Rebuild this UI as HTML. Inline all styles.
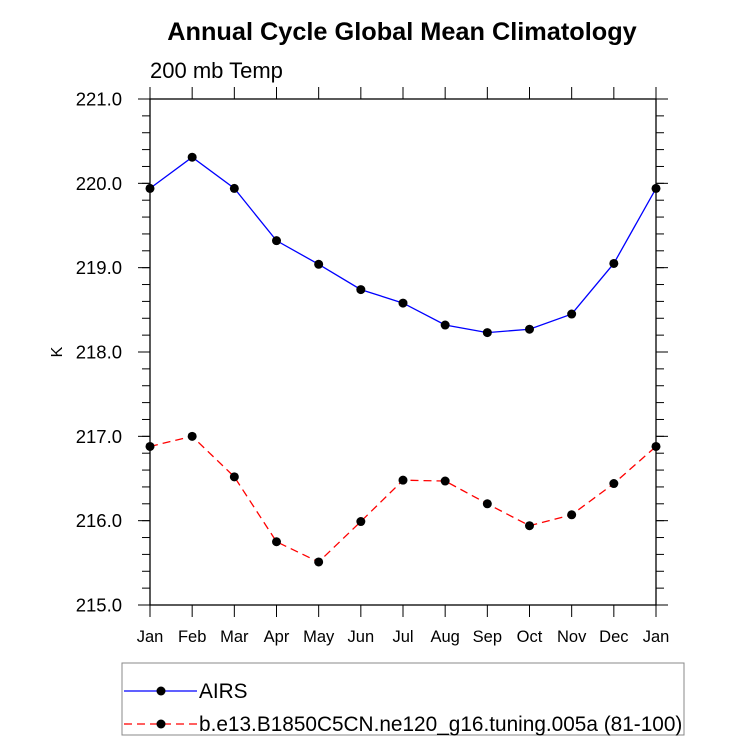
<!DOCTYPE html>
<html><head><meta charset="utf-8"><style>
body{margin:0;background:#fff;font-family:"Liberation Sans",sans-serif}
</style></head><body>
<svg id="c" width="733" height="737" xmlns="http://www.w3.org/2000/svg" font-family="Liberation Sans, sans-serif">
<text x="402" y="40" font-size="25.3" font-weight="bold" text-anchor="middle">Annual Cycle Global Mean Climatology</text>
<text x="150" y="78" font-size="22">200 mb Temp</text>
<text transform="translate(62,352) rotate(-90)" font-size="16" text-anchor="middle">K</text>
<g id="axes"></g><g id="series"></g>
<rect x="122" y="663" width="562" height="72" fill="none" stroke="#888"/>
<g>
<line x1="124" y1="691" x2="197" y2="691" stroke="#00f" stroke-width="1.3"/><circle cx="161" cy="691" r="4.5"/>
<text x="199" y="698" font-size="20.8">AIRS</text></g>
<g>
<line x1="124" y1="724" x2="197" y2="724" stroke="#f00" stroke-width="1.3" stroke-dasharray="8,5"/><circle cx="161" cy="724" r="4.5"/>
<text x="199" y="731" font-size="20.8">b.e13.B1850C5CN.ne120_g16.tuning.005a (81-100)</text></g>
</svg>
<script>
const months=["Jan","Feb","Mar","Apr","May","Jun","Jul","Aug","Sep","Oct","Nov","Dec","Jan"];
const airs=[219.94,220.31,219.94,219.32,219.04,218.74,218.58,218.32,218.23,218.27,218.45,219.05,219.94];
const model=[216.88,217.0,216.52,215.75,215.51,215.99,216.48,216.47,216.2,215.94,216.07,216.44,216.88];
const yTicks=["215.0","216.0","217.0","218.0","219.0","220.0","221.0"];
const X0=150,X1=656,Y0=605,Y1=99,ymin=215,ymax=221;
const xs=i=>X0+(X1-X0)*i/12, ys=v=>Y0-(Y0-Y1)*(v-ymin)/(ymax-ymin);
const NS="http://www.w3.org/2000/svg";
function mk(p,t,a){const e=document.createElementNS(NS,t);for(const k in a)e.setAttribute(k,a[k]);p.appendChild(e);return e;}
const ax=document.getElementById('axes');
const fr=mk(ax,'rect',{x:X0,y:Y1,width:X1-X0,height:Y0-Y1,fill:'none',stroke:'#000','stroke-width':1.3});


months.forEach((m,i)=>{const x=xs(i);
mk(ax,'line',{x1:x,y1:Y0,x2:x,y2:Y0+12,stroke:'#000'});
mk(ax,'line',{x1:x,y1:Y1,x2:x,y2:Y1-12,stroke:'#000'});
const t=mk(ax,'text',{x:x,y:Y0+37,'font-size':16.5,'text-anchor':'middle'});t.textContent=m;

});
yTicks.forEach(l=>{const v=parseFloat(l),y=ys(v);
mk(ax,'line',{x1:X0-12,y1:y,x2:X0,y2:y,stroke:'#000'});
mk(ax,'line',{x1:X1,y1:y,x2:X1+12,y2:y,stroke:'#000'});
const t=mk(ax,'text',{x:X0-28,y:y+6.5,'font-size':18.5,'text-anchor':'end'});t.textContent=l;

});
for(let v=ymin;v<=ymax+1e-9;v+=0.2){const y=ys(v);
mk(ax,'line',{x1:X0-8,y1:y,x2:X0,y2:y,stroke:'#000'});
mk(ax,'line',{x1:X1,y1:y,x2:X1+8,y2:y,stroke:'#000'});}
const sg=document.getElementById('series');
function draw(d,col,dash,name){
const p=mk(sg,'polyline',{points:d.map((v,i)=>xs(i)+','+ys(v)).join(' '),fill:'none',stroke:col,'stroke-width':1.3,'stroke-dasharray':dash});


d.forEach((v,i)=>{const c=mk(sg,'circle',{cx:xs(i),cy:ys(v),r:4.5});

});}
draw(airs,'#00f','none','airs');
draw(model,'#f00','8,5','model');
</script>
</body></html>
